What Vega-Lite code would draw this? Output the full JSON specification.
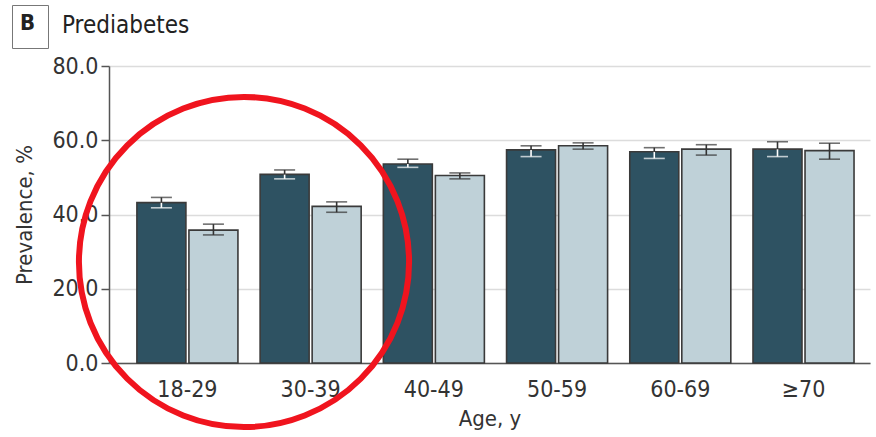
{
  "$schema": "https://vega.github.io/schema/vega-lite/v6.json",
  "width": 761,
  "height": 297,
  "autosize": {"type": "none"},
  "padding": {"left": 109, "top": 66, "right": 6, "bottom": 74},
  "background": "white",
  "title": {
    "text": "Prediabetes",
    "anchor": "start",
    "frame": "group",
    "dx": -47,
    "dy": 37,
    "fontSize": 24,
    "fontWeight": "normal",
    "color": "#222222"
  },
  "config": {
    "view": {"stroke": null},
    "font": "DejaVu Sans Condensed",
    "axis": {
      "labelFontSize": 23,
      "titleFontSize": 22,
      "titleFontWeight": "normal",
      "labelColor": "#333333",
      "titleColor": "#333333",
      "domainColor": "#555555",
      "domainWidth": 1.5,
      "tickColor": "#555555",
      "tickWidth": 1.5
    }
  },
  "layer": [
    {
      "data": {
        "values": [
          {"age": "18-29", "sex": "Men", "prevalence": 43.2, "lo": 41.8, "hi": 44.6},
          {"age": "18-29", "sex": "Women", "prevalence": 35.8, "lo": 34.5, "hi": 37.4},
          {"age": "30-39", "sex": "Men", "prevalence": 50.8, "lo": 49.6, "hi": 52.0},
          {"age": "30-39", "sex": "Women", "prevalence": 42.2, "lo": 40.6, "hi": 43.4},
          {"age": "40-49", "sex": "Men", "prevalence": 53.6, "lo": 52.7, "hi": 54.9},
          {"age": "40-49", "sex": "Women", "prevalence": 50.5, "lo": 49.6, "hi": 51.2},
          {"age": "50-59", "sex": "Men", "prevalence": 57.4, "lo": 55.6, "hi": 58.5},
          {"age": "50-59", "sex": "Women", "prevalence": 58.5, "lo": 57.6, "hi": 59.3},
          {"age": "60-69", "sex": "Men", "prevalence": 56.9, "lo": 55.1, "hi": 58.0},
          {"age": "60-69", "sex": "Women", "prevalence": 57.6, "lo": 56.0, "hi": 58.8},
          {"age": "≥70", "sex": "Men", "prevalence": 57.6, "lo": 55.6, "hi": 59.6},
          {"age": "≥70", "sex": "Women", "prevalence": 57.2, "lo": 54.9, "hi": 59.2}
        ]
      },
      "encoding": {
        "x": {
          "field": "age",
          "type": "nominal",
          "sort": ["18-29", "30-39", "40-49", "50-59", "60-69", "≥70"],
          "scale": {"paddingInner": 0.18, "paddingOuter": 0.178, "align": 0.636},
          "axis": {
            "title": "Age, y",
            "labelAngle": 0,
            "ticks": false,
            "labelPadding": 15,
            "titlePadding": 7
          }
        },
        "xOffset": {
          "field": "sex",
          "type": "nominal",
          "sort": ["Men", "Women"],
          "scale": {"paddingInner": 0.058, "paddingOuter": 0}
        }
      },
      "layer": [
        {
          "mark": {"type": "bar", "stroke": "#3a3a3a", "strokeWidth": 1.6},
          "encoding": {
            "y": {
              "field": "prevalence",
              "type": "quantitative",
              "scale": {"domain": [0, 80]},
              "axis": {
                "title": "Prevalence, %",
                "values": [0, 20, 40, 60, 80],
                "format": ".1f",
                "tickSize": 8,
                "labelPadding": 3,
                "titlePadding": 15,
                "gridColor": "#dcdcdc",
                "gridWidth": 1.5
              }
            },
            "fill": {
              "field": "sex",
              "type": "nominal",
              "scale": {"domain": ["Men", "Women"], "range": ["#2e5262", "#bfd1d8"]},
              "legend": {
                "title": "B",
                "orient": "none",
                "legendX": -97,
                "legendY": -61,
                "titleFontSize": 22,
                "titleFontWeight": "bold",
                "titleColor": "#222222",
                "titlePadding": 0,
                "strokeColor": "#777777",
                "padding": 8,
                "direction": "horizontal",
                "symbolSize": 0,
                "symbolStrokeWidth": 0,
                "symbolOpacity": 0,
                "labelFontSize": 0,
                "labelOffset": 0,
                "labelExpr": "''",
                "columnPadding": 0,
                "rowPadding": 0
              }
            }
          }
        },
        {
          "mark": {"type": "rule", "strokeWidth": 1.6},
          "encoding": {
            "y": {"field": "lo", "type": "quantitative"},
            "y2": {"field": "prevalence"},
            "color": {"condition": {"test": "datum.sex === 'Men'", "value": "#ffffff"}, "value": "#333333"}
          }
        },
        {
          "mark": {"type": "rule", "strokeWidth": 1.6, "color": "#333333"},
          "encoding": {
            "y": {"field": "prevalence", "type": "quantitative"},
            "y2": {"field": "hi"}
          }
        },
        {
          "mark": {"type": "tick", "size": 21, "thickness": 1.6},
          "encoding": {
            "y": {"field": "lo", "type": "quantitative"},
            "color": {"condition": {"test": "datum.sex === 'Men'", "value": "#ffffff"}, "value": "#333333"}
          }
        },
        {
          "mark": {"type": "tick", "size": 21, "thickness": 1.6, "color": "#333333"},
          "encoding": {
            "y": {"field": "hi", "type": "quantitative"}
          }
        }
      ]
    },
    {
      "data": {"values": [{"note": "youngest age groups"}]},
      "mark": {"type": "point", "shape": "circle", "filled": false, "size": 109000, "stroke": "#f0141e", "strokeWidth": 6, "opacity": 1},
      "encoding": {
        "x": {"datum": "18-29", "bandPosition": 1.06},
        "y": {"datum": 27.2, "type": "quantitative"}
      }
    }
  ]
}
